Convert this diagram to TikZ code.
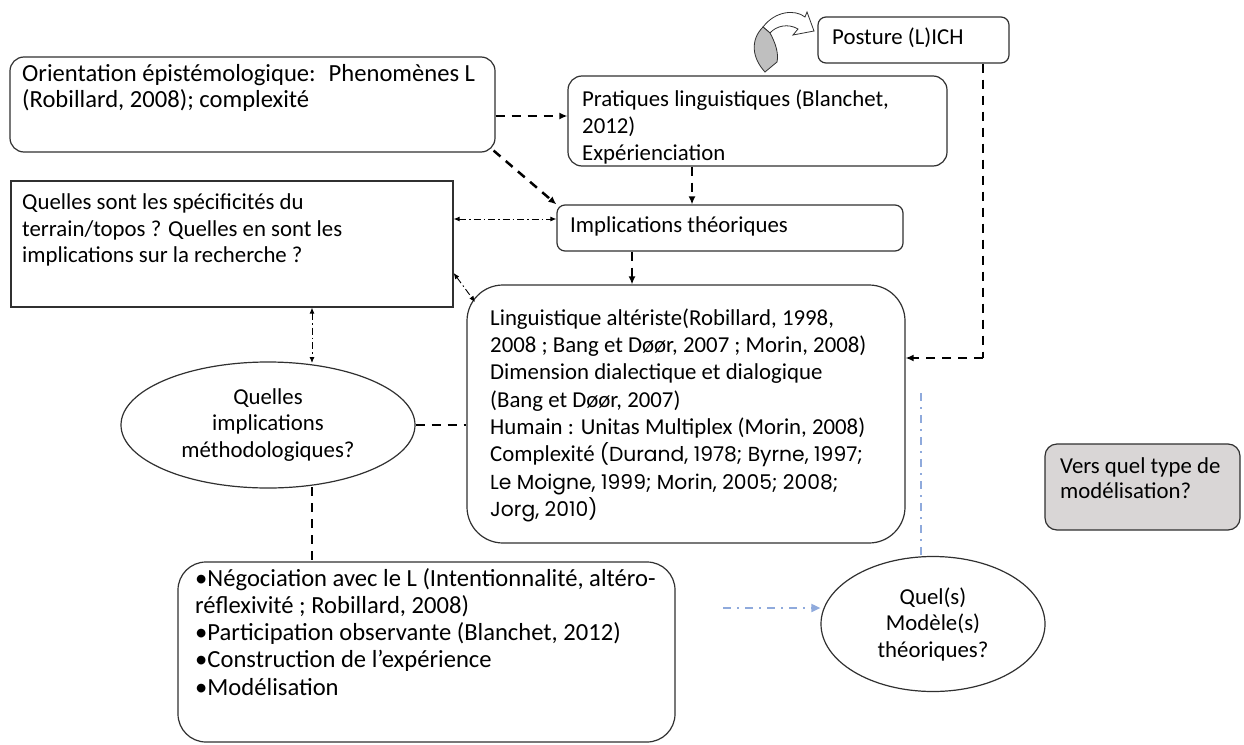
\documentclass[tikz,border=0pt]{standalone}
\usepackage{fontspec}
\setmainfont{Carlito}
\newfontfamily\gothic{Poppins}
\usetikzlibrary{arrows.meta,shapes.geometric}
\definecolor{lineg}{HTML}{303030}
\definecolor{greyfill}{HTML}{D9D6D6}
\definecolor{arrowgrey}{HTML}{BFBFBF}
\definecolor{lightblue}{HTML}{8FAADC}
\begin{document}
\begin{tikzpicture}[x=1pt,y=-1pt,
  box/.style={draw=lineg, line width=1.2pt, inner sep=0pt},
  txt/.style={inner sep=0pt, anchor=north west, align=left, font=\fontsize{22.8}{26.5}\selectfont},
  ctxt/.style={align=center, font=\fontsize{22.8}{26.5}\selectfont},
  thickdash/.style={line width=2.5pt, dash pattern=on 9pt off 7pt, -{Latex[length=8pt,width=7pt]}},
  thickdashnt/.style={line width=2.5pt, dash pattern=on 9pt off 7pt},
  thindd/.style={line width=0.9pt, dash pattern=on 7pt off 3pt on 1.5pt off 3pt, {Latex[length=6pt,width=5pt]}-{Latex[length=6pt,width=5pt]}},
  bluedd/.style={draw=lightblue, line width=1.8pt, dash pattern=on 8pt off 6pt on 2pt off 6pt}
]
\useasboundingbox (0,0) rectangle (1244,744);
\fill[white] (0,0) rectangle (1244,744);

% boxes
\node[box, rounded corners=14pt, minimum width=485pt, minimum height=95pt] (orient) at (252.5,104.5) {};
\node[txt, font=\fontsize{24.6}{23.5}\selectfont] (orientT) at (22,64) {\strut Orientation épistémologique:~ Phenomènes L\\(Robillard, 2008); complexité};

\node[box, rounded corners=14pt, minimum width=379pt, minimum height=90pt] (prat) at (757.5,121) {};
\node[txt, font=\fontsize{22.8}{27}\selectfont] (pratT) at (582,87) {\strut Pratiques linguistiques (Blanchet,\\2012)\\Expérienciation};

\node[box, rounded corners=8pt, minimum width=191pt, minimum height=46pt] (post) at (913.5,40) {};
\node[txt] (postT) at (832,26) {\strut Posture (L)ICH};

\node[box, minimum width=442pt, minimum height=126pt] (quel) at (232,244) {};
\node[txt] (quelT) at (22,191) {\strut Quelles sont les spécificités du\\terrain/topos ? Quelles en sont les\\implications sur la recherche ?};

\node[box, rounded corners=8pt, minimum width=346pt, minimum height=46pt] (impl) at (730,228) {};
\node[txt] (implT) at (570,214) {\strut Implications théoriques};

\node[box, rounded corners=36pt, minimum width=438pt, minimum height=258pt] (ling) at (686,414) {};
\node[txt, font=\fontsize{22.8}{27.3}\selectfont] (lingT) at (490,306) {\strut Linguistique altériste(Robillard, 1998,\\2008 ; Bang et Døør, 2007 ; Morin, 2008)\\Dimension dialectique et dialogique\\(Bang et Døør, 2007)\\Humain : Unitas Multiplex (Morin, 2008)\\Complexité {\gothic\fontsize{20.3}{27.3}\selectfont (Durand, 1978; Byrne, 1997;}\\{\gothic\fontsize{20.3}{27.3}\selectfont Le Moigne, 1999; Morin, 2005; 2008;}\\{\gothic\fontsize{20.3}{27.3}\selectfont Jorg, 2010)}};

\node[box, ellipse, minimum width=294pt, minimum height=126pt, ctxt] (ell1) at (268,425) {Quelles\\implications\\méthodologiques?};

\node[box, rounded corners=28pt, minimum width=497pt, minimum height=180pt] (nego) at (426.5,652) {};
\node[txt, font=\fontsize{24.6}{27.2}\selectfont] (negoT) at (195,567) {\strut •Négociation avec le L (Intentionnalité, altéro-\\réflexivité ; Robillard, 2008)\\•Participation observante (Blanchet, 2012)\\•Construction de l’expérience\\•Modélisation};

\node[box, ellipse, minimum width=224pt, minimum height=135pt, ctxt] (ell2) at (933,624) {Quel(s)\\Modèle(s)\\théoriques?};

\node[box, fill=greyfill, rounded corners=12pt, minimum width=195pt, minimum height=86pt] (grey) at (1142.5,487) {};
\node[txt, font=\fontsize{22.8}{25}\selectfont] (greyT) at (1060,456) {\strut Vers quel type de\\modélisation?};

% curved block arrow
\draw[draw=lineg, line width=0.8pt, fill=white] (763,27) .. controls (775,11) and (795,9) .. (805,17) -- (807,12) -- (814,31) -- (793,35) -- (798,29) .. controls (788,23) and (776,26) .. (770,33) -- cycle;
\draw[draw=lineg, line width=0.8pt, fill=arrowgrey] (770,33) .. controls (775,42) and (779,53) .. (777,62) -- (765,72) .. controls (752,58) and (750,40) .. (763,27) -- cycle;

% coordinates
\coordinate (y116) at (0,116);
\coordinate (y219) at (0,219);
\coordinate (y273) at (0,273);
\coordinate (lingC) at (475,302);
\coordinate (x312) at (312,0);
\coordinate (e1top) at (312,363);
\coordinate (e1bot) at (312,487);
\coordinate (pcorner) at (983,358);
\coordinate (bstart) at (723,608);
\coordinate (bvtop) at (921,393);
\coordinate (bvbot) at (921,556);

% connectors
\draw[thickdash] (orient.east |- y116) -- (prat.west |- y116);
\draw[thickdash] (orient.south east) ++(-2,-2) -- (impl.north west);
\draw[thickdash] (prat.south -| 692,0) -- (impl.north -| 692,0);
\draw[thickdash] (impl.south -| 632,0) -- (ling.north -| 632,0);
\draw[thickdashnt] (post.south -| pcorner) -- (pcorner);
\draw[thickdash] (pcorner) -- (ling.east |- pcorner);
\draw[thickdashnt] (ell1.east) -- (ling.west |- ell1.east);
\draw[thickdashnt] (e1bot) -- (nego.north -| e1bot);

\draw[thindd] (quel.east |- y219) -- (impl.west |- y219);
\draw[thindd] (quel.east |- y273) -- (lingC);
\draw[thindd] (quel.south -| x312) -- (e1top);

\draw[bluedd, -{Triangle[length=9pt,width=8pt,fill=lightblue]}] (bstart) -- (ell2.west |- bstart);
\draw[bluedd] (bvtop) -- (bvbot);
\end{tikzpicture}
\end{document}
